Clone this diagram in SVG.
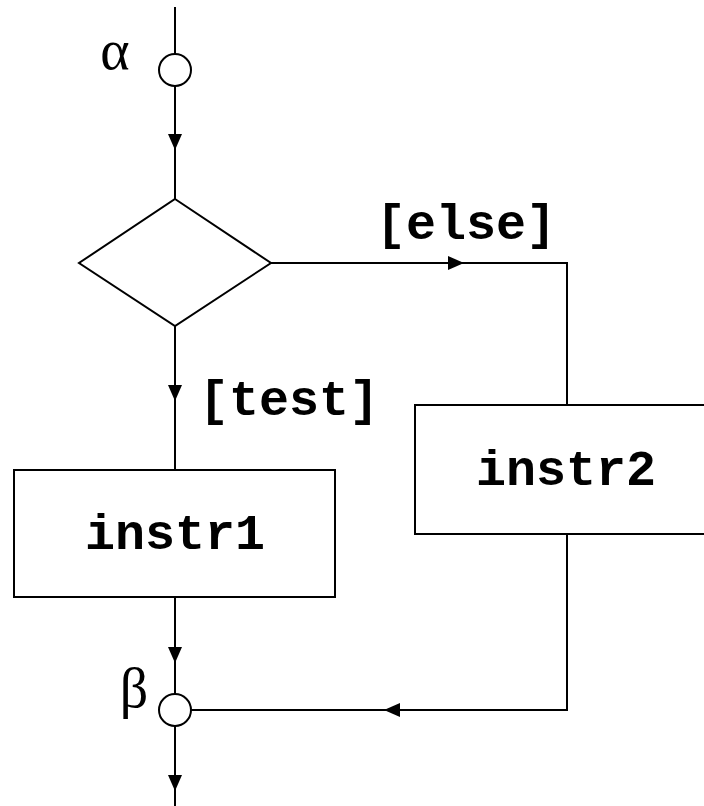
<svg xmlns="http://www.w3.org/2000/svg" width="704" height="806" viewBox="0 0 704 806">
  <defs>
    <marker id="arrow" viewBox="0 0 16 14" refX="16" refY="7" markerWidth="16" markerHeight="14" markerUnits="userSpaceOnUse" orient="auto">
      <path d="M0,0 L16,7 L0,14 Z" fill="#000"/>
    </marker>
    <style>
      .line { fill: none; stroke: #000; stroke-width: 2; }
      .shape { fill: #fff; stroke: #000; stroke-width: 2; }
      .code { font-family: "Liberation Mono", "Courier New", monospace; font-weight: bold; font-size: 50px; fill: #000; }
      .greek { font-family: "Liberation Serif", "Times New Roman", serif; font-size: 56px; fill: #000; }
    </style>
  </defs>
  <rect width="704" height="806" fill="#fff"/>

  <!-- connectors -->
  <g id="connectors">
    <line class="line" x1="175" y1="7" x2="175" y2="54"/>
    <line class="line" x1="175" y1="86" x2="175" y2="150" marker-end="url(#arrow)"/>
    <line class="line" x1="175" y1="148" x2="175" y2="199"/>
    <line class="line" x1="175" y1="326" x2="175" y2="401" marker-end="url(#arrow)"/>
    <line class="line" x1="175" y1="399" x2="175" y2="470"/>
    <line class="line" x1="271" y1="263" x2="464" y2="263" marker-end="url(#arrow)"/>
    <polyline class="line" points="462,263 567,263 567,405"/>
    <line class="line" x1="175" y1="597" x2="175" y2="663" marker-end="url(#arrow)"/>
    <line class="line" x1="175" y1="661" x2="175" y2="694"/>
    <polyline class="line" points="567,534 567,710 384,710"/>
    <line class="line" x1="400" y1="710" x2="384" y2="710" marker-end="url(#arrow)"/>
    <line class="line" x1="386" y1="710" x2="191" y2="710"/>
    <line class="line" x1="175" y1="726" x2="175" y2="791" marker-end="url(#arrow)"/>
    <line class="line" x1="175" y1="789" x2="175" y2="806"/>
    <text class="code" x="466" y="239" text-anchor="middle">[else]</text>
    <text class="code" x="289" y="415" text-anchor="middle">[test]</text>
  </g>

  <!-- start junction -->
  <g id="alpha">
    <circle class="shape" cx="175" cy="70" r="16"/>
    <text class="greek" x="115" y="69" text-anchor="middle">α</text>
  </g>

  <!-- decision -->
  <g id="decision">
    <polygon class="shape" points="175,199 271,263 175,326 79,263"/>
  </g>

  <!-- instruction boxes -->
  <g id="instr1">
    <rect class="shape" x="14" y="470" width="321" height="127"/>
    <text class="code" x="175" y="549" text-anchor="middle">instr1</text>
  </g>
  <g id="instr2">
    <rect class="shape" x="415" y="405" width="304" height="129"/>
    <text class="code" x="566" y="485" text-anchor="middle">instr2</text>
  </g>

  <!-- merge junction -->
  <g id="beta">
    <circle class="shape" cx="175" cy="710" r="16"/>
    <text class="greek" x="134" y="707" text-anchor="middle">β</text>
  </g>
</svg>
